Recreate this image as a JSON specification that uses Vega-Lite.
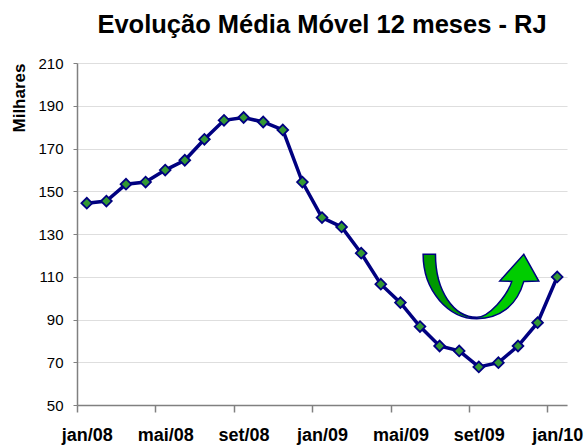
{
  "$schema": "https://vega.github.io/schema/vega-lite/v6.json",
  "width": 490,
  "height": 342,
  "autosize": {"type": "none"},
  "padding": {"left": 77, "top": 63, "right": 20, "bottom": 41},
  "background": "white",
  "config": {
    "view": {"stroke": null},
    "font": "Liberation Sans"
  },
  "title": {
    "text": "Evolução Média Móvel 12 meses - RJ",
    "font": "Liberation Sans",
    "fontSize": 25.5,
    "fontWeight": "bold",
    "color": "black",
    "anchor": "middle",
    "offset": 18
  },
  "datasets": {
    "serie": [
      {"mes": "jan/08", "valor": 144.4},
      {"mes": "fev/08", "valor": 145.4},
      {"mes": "mar/08", "valor": 153.3},
      {"mes": "abr/08", "valor": 154.3},
      {"mes": "mai/08", "valor": 159.9},
      {"mes": "jun/08", "valor": 164.5},
      {"mes": "jul/08", "valor": 174.3},
      {"mes": "ago/08", "valor": 183.2},
      {"mes": "set/08", "valor": 184.5},
      {"mes": "out/08", "valor": 182.4},
      {"mes": "nov/08", "valor": 178.7},
      {"mes": "dez/08", "valor": 154.3},
      {"mes": "jan/09", "valor": 137.7},
      {"mes": "fev/09", "valor": 133.3},
      {"mes": "mar/09", "valor": 121.0},
      {"mes": "abr/09", "valor": 106.5},
      {"mes": "mai/09", "valor": 97.9},
      {"mes": "jun/09", "valor": 86.7},
      {"mes": "jul/09", "valor": 77.6},
      {"mes": "ago/09", "valor": 75.3},
      {"mes": "set/09", "valor": 67.8},
      {"mes": "out/09", "valor": 69.8},
      {"mes": "nov/09", "valor": 77.6},
      {"mes": "dez/09", "valor": 88.5},
      {"mes": "jan/10", "valor": 109.9}
    ],
    "seta": [
      {"mes": "set/09", "valor": 105.5}
    ]
  },
  "encoding": {
    "x": {
      "field": "mes",
      "type": "nominal",
      "scale": {
        "type": "band",
        "paddingInner": 0,
        "paddingOuter": 0,
        "domain": ["jan/08","fev/08","mar/08","abr/08","mai/08","jun/08","jul/08","ago/08","set/08","out/08","nov/08","dez/08","jan/09","fev/09","mar/09","abr/09","mai/09","jun/09","jul/09","ago/09","set/09","out/09","nov/09","dez/09","jan/10"]
      },
      "axis": {
        "title": null,
        "tickOffset": -9.8,
        "labelOffset": 9.8,
        "labelAngle": 0,
        "labelOverlap": false,
        "labelBound": false,
        "labelFlush": false,
        "labelExpr": "indexof(['jan/08','mai/08','set/08','jan/09','mai/09','set/09','jan/10'], datum.value) >= 0 ? datum.value : ''",
        "tickOpacity": {
          "condition": {"test": "indexof(['jan/08','mai/08','set/08','jan/09','mai/09','set/09','jan/10'], datum.value) >= 0", "value": 1},
          "value": 0
        },
        "labelFont": "Liberation Sans",
        "labelFontSize": 18,
        "labelFontWeight": "bold",
        "labelColor": "black",
        "labelPadding": 14,
        "tickSize": 7,
        "tickColor": "#808080",
        "tickWidth": 1.5,
        "domainColor": "#808080",
        "domainWidth": 1.5,
        "grid": false
      }
    },
    "y": {
      "field": "valor",
      "type": "quantitative",
      "scale": {"domain": [50, 210], "nice": false, "zero": false},
      "axis": {
        "title": "Milhares",
        "titleFont": "Liberation Sans",
        "titleFontSize": 17,
        "titleFontWeight": "bold",
        "titleColor": "black",
        "titleAnchor": "end",
        "titlePadding": 9,
        "values": [50, 70, 90, 110, 130, 150, 170, 190, 210],
        "labelFont": "Liberation Sans",
        "labelFontSize": 15,
        "labelColor": "black",
        "labelPadding": 10,
        "tickSize": 4,
        "tickColor": "#808080",
        "domainColor": "#808080",
        "domainWidth": 1.5,
        "gridColor": "#dedede",
        "gridWidth": 1.2
      }
    }
  },
  "layer": [
    {
      "data": {"name": "serie"},
      "mark": {"type": "line", "color": "#000080", "strokeWidth": 3.5}
    },
    {
      "data": {"name": "serie"},
      "mark": {
        "type": "point",
        "shape": "diamond",
        "filled": true,
        "fill": "#339933",
        "fillOpacity": 1,
        "stroke": "#000080",
        "strokeWidth": 1.8,
        "size": 115
      }
    },
    {
      "data": {"name": "seta"},
      "mark": {
        "type": "point",
        "shape": "M-0.960,-0.552 L-0.747,-0.552 C-0.747,0.086 -0.431,0.534 -0.034,0.534 C0.172,0.534 0.483,0.172 0.569,-0.086 L0.362,-0.091 L0.776,-0.552 L1.034,-0.091 L0.776,-0.086 C0.655,0.345 0.345,0.557 -0.034,0.557 C-0.517,0.557 -0.960,0.086 -0.960,-0.552 Z",
        "size": 13456,
        "filled": true,
        "fill": {
          "gradient": "linear",
          "x1": 0, "y1": 0, "x2": 1, "y2": 0,
          "stops": [
            {"offset": 0, "color": "#009900"},
            {"offset": 0.45, "color": "#009900"},
            {"offset": 0.47, "color": "#00cc00"},
            {"offset": 1, "color": "#00cc00"}
          ]
        },
        "fillOpacity": 1,
        "stroke": "#000080",
        "strokeWidth": 1.5,
        "opacity": 1
      }
    }
  ]
}
